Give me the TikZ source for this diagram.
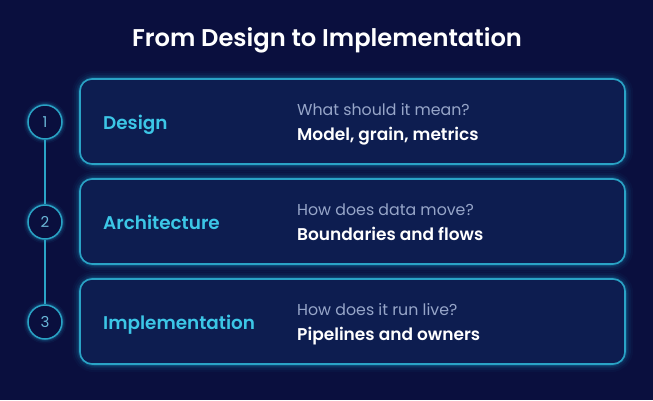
\documentclass[tikz,border=0pt]{standalone}
\usepackage{fontspec}
\setmainfont{Poppins}[BoldFont={Poppins SemiBold}]
\definecolor{bgnavy}{HTML}{0A0F3E}
\definecolor{boxfill}{HTML}{0D1D50}
\definecolor{glowc}{HTML}{1FA6D0}
\definecolor{edgec}{HTML}{2AA3C6}
\definecolor{labelc}{HTML}{3CC6E6}
\definecolor{questc}{HTML}{97A6C9}
\tikzset{
  stepcard/.style={draw=edgec, line width=1.6pt, fill=boxfill, rounded corners=12pt,
    minimum width=545pt, minimum height=85pt, inner sep=0pt},
  stepnum/.style={circle, draw=edgec, line width=1.5pt, fill=bgnavy, minimum size=34pt,
    inner sep=0pt, text=questc!50!labelc, font=\fontsize{15}{15}\selectfont},
  steplabel/.style={anchor=base west, inner sep=0pt, text=labelc, font=\bfseries\fontsize{18.4}{18.4}\selectfont},
  stepq/.style={anchor=base west, inner sep=0pt, text=questc, font=\fontsize{15.8}{15.8}\selectfont},
  stepa/.style={anchor=base west, inner sep=0pt, text=white, font=\bfseries\fontsize{17}{17}\selectfont},
  connector/.style={draw=edgec, line width=1.5pt},
  glowline/.style={draw=glowc, rounded corners=14pt}
}
\begin{document}
\begin{tikzpicture}[x=1pt,y=-1pt]
\fill[bgnavy] (0,0) rectangle (653,400);
\useasboundingbox (0,0) rectangle (653,400);
\node[anchor=base, inner sep=0pt, text=white, font=\bfseries\fontsize{24.2}{24.2}\selectfont] (title) at (327,46) {From Design to Implementation};
% glows
\foreach \cy in {121.5,221.5,321.5}{
  \foreach \w/\o in {16/0.04,12/0.06,8/0.09,5/0.14,3/0.22}{
    \draw[glowline, line width=\w pt, opacity=\o] (80,\cy-42.5) rectangle (625,\cy+42.5);
  }
}
\foreach \cy in {122,222,322}{
  \foreach \w/\o in {9/0.06,6/0.1,3.5/0.18}{
    \draw[draw=glowc, line width=\w pt, opacity=\o] (45,\cy) circle (17pt);
  }
}
\node[stepcard] (b1) at (352.5,121.5) {};
\node[stepcard] (b2) at (352.5,221.5) {};
\node[stepcard] (b3) at (352.5,321.5) {};
\node[stepnum] (c1) at (45,122) {1};
\node[stepnum] (c2) at (45,222) {2};
\node[stepnum] (c3) at (45,322) {3};
\draw[connector] (c1.south) -- (c2.north);
\draw[connector] (c2.south) -- (c3.north);
\node[steplabel] (l1) at (103,129.5) {Design};
\node[steplabel] (l2) at (103,229.5) {Architecture};
\node[steplabel] (l3) at (103,329.5) {Implementation};
\node[stepq] (q1) at (297,115) {What should it mean?};
\node[stepa] (a1) at (297,140) {Model, grain, metrics};
\node[stepq] (q2) at (297,215) {How does data move?};
\node[stepa] (a2) at (297,240) {Boundaries and flows};
\node[stepq] (q3) at (297,315) {How does it run live?};
\node[stepa] (a3) at (297,340) {Pipelines and owners};
\end{tikzpicture}
\end{document}
